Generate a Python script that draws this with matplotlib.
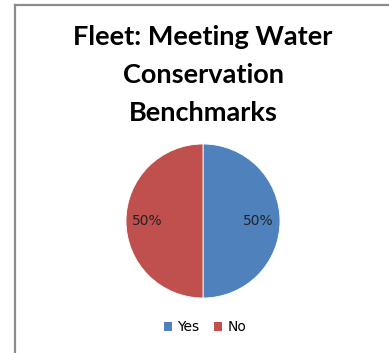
import matplotlib
matplotlib.use("Agg")
import matplotlib.pyplot as plt
from matplotlib.patches import Patch
from matplotlib.lines import Line2D

title = "Fleet: Meeting Water\nConservation\nBenchmarks"
categories = ["Yes", "No"]
values = [50, 50]
colors = ["#4F81BD", "#C0504D"]

W, H = 389, 353
fig = plt.figure(figsize=(W / 100, H / 100), dpi=100)
fig.patch.set_facecolor("white")

# outer chart-area border (left and top visible)
fig.add_artist(Line2D([14.5 / W, 14.5 / W], [0, 1 - 4.5 / H], color="#8c8c8c", lw=1.6, transform=fig.transFigure))
fig.add_artist(Line2D([14.5 / W, 1], [1 - 4.5 / H, 1 - 4.5 / H], color="#8c8c8c", lw=1.6, transform=fig.transFigure))

fig.text(203 / W, 1 - 75 / H, title, ha="center", va="center", fontsize=19.5,
         fontweight="bold", family="Lato", linespacing=1.68, color="black")

r = 77
cx, cy = 203, 221
ax = fig.add_axes([(cx - r) / W, 1 - (cy + r) / H, 2 * r / W, 2 * r / H])
wedges, texts, autotexts = ax.pie(values, colors=colors, startangle=90, counterclock=False,
                                  autopct="%1.0f%%", pctdistance=0.72,
                                  wedgeprops=dict(edgecolor="white", linewidth=0.6),
                                  textprops=dict(fontsize=10, color="#222222", family="DejaVu Sans"))
ax.set_xlim(-1, 1)
ax.set_ylim(-1, 1)
ax.set_aspect("equal")
ax.axis("off")

handles = [Patch(facecolor=c, edgecolor="none") for c in colors]
fig.legend(handles, categories, loc="center", bbox_to_anchor=(205 / W, 1 - 327 / H), ncol=2,
           frameon=False, handlelength=0.6, handleheight=0.6, handletextpad=0.4,
           columnspacing=1.0, prop={"family": "DejaVu Sans", "size": 10})

fig.savefig("out.png", dpi=100, facecolor="white")
